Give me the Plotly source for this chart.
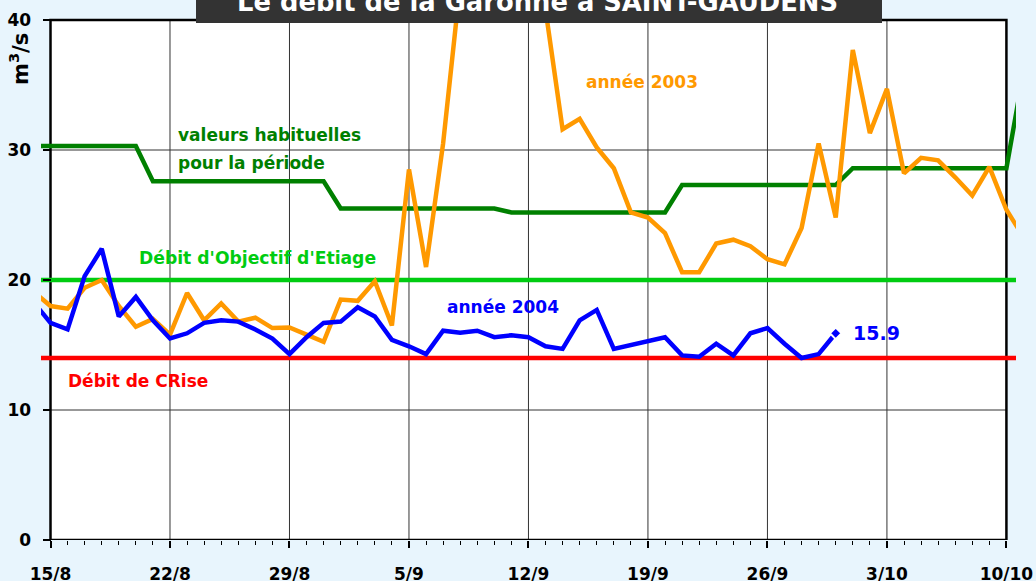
import plotly.graph_objects as go

# ---------------- data ----------------
# day offset from 15/8 (index of the daily category)
day = list(range(-1, 58))
tick_days = [0, 7, 14, 21, 28, 35, 42, 49, 56]
tick_labels = ["15/8", "22/8", "29/8", "5/9", "12/9", "19/9", "26/9", "3/10", "10/10"]
y_ticks = [0, 10, 20, 30, 40]

annee_2004 = [18.3, 16.7, 16.2, 20.3, 22.4, 17.2, 18.7, 16.9, 15.5, 15.9,
              16.7, 16.9, 16.8, 16.2, 15.5, 14.3, 15.6, 16.7, 16.8, 17.9,
              17.2, 15.4, 14.9, 14.3, 16.1, 15.95, 16.1, 15.6, 15.75, 15.6,
              14.9, 14.7, 16.9, 17.7, 14.7, 15.0, 15.3, 15.6, 14.2, 14.1,
              15.1, 14.2, 15.9, 16.3, 15.1, 14.0, 14.3, 15.9]

annee_2003 = [19.1, 18.0, 17.8, 19.4, 20.0, 18.0, 16.4, 17.0, 15.8, 19.0,
              16.9, 18.2, 16.8, 17.1, 16.3, 16.35, 15.8, 15.25, 18.5, 18.4,
              19.9, 16.5, 28.5, 21.0, 30.5, 43.0, 55.0, 62.0, 58.0, 50.0,
              41.0, 31.6, 32.4, 30.2, 28.6, 25.2, 24.8, 23.6, 20.6, 20.6,
              22.8, 23.1, 22.6, 21.6, 21.2, 24.0, 30.5, 24.8, 37.7, 31.3,
              34.7, 28.2, 29.4, 29.2, 27.9, 26.5, 28.7, 25.4, 23.3]

valeurs_habituelles = [30.3, 30.3, 30.3, 30.3, 30.3, 30.3, 30.3,
                       27.6, 27.6, 27.6, 27.6, 27.6, 27.6, 27.6, 27.6, 27.6, 27.6, 27.6,
                       25.5, 25.5, 25.5, 25.5, 25.5, 25.5, 25.5, 25.5, 25.5, 25.5,
                       25.2, 25.2, 25.2, 25.2, 25.2, 25.2, 25.2, 25.2, 25.2, 25.2,
                       27.3, 27.3, 27.3, 27.3, 27.3, 27.3, 27.3, 27.3, 27.3, 27.3,
                       28.6, 28.6, 28.6, 28.6, 28.6, 28.6, 28.6, 28.6, 28.6, 28.6,
                       36.0]

debit_objectif_etiage = 20.0
debit_crise = 14.0
last_label = "15.9"

# ---------------- geometry ----------------
W, H = 1036, 581
L, R, T, B = 41, 20, 0, 41
PX_PER_DAY = 17.07
PX_PER_UNIT = 13.0
FRAME_LEFT = 50.5
xr0 = -(FRAME_LEFT - L) / PX_PER_DAY
xr1 = xr0 + (W - L - R) / PX_PER_DAY
yr1 = (H - T - B) / PX_PER_UNIT


def px(x):
    return (x - L) / (W - L - R)


def py(y):
    return (H - B - y) / (H - T - B)


FONT = "DejaVu Sans"
C_BLUE = "#0000FF"
C_ORANGE = "#FF9900"
C_DGREEN = "#008000"
C_LGREEN = "#00CC11"
C_RED = "#FF0000"

fig = go.Figure()

x_all = day
fig.add_trace(go.Scatter(x=[x_all[0], x_all[-1]], y=[debit_crise, debit_crise],
                         mode="lines", line=dict(color=C_RED, width=4.5),
                         hoverinfo="skip", showlegend=False))
fig.add_trace(go.Scatter(x=[x_all[0], x_all[-1]], y=[debit_objectif_etiage, debit_objectif_etiage],
                         mode="lines", line=dict(color=C_LGREEN, width=4.5),
                         hoverinfo="skip", showlegend=False))
fig.add_trace(go.Scatter(x=day[:len(valeurs_habituelles)], y=valeurs_habituelles,
                         mode="lines", line=dict(color=C_DGREEN, width=4.5),
                         showlegend=False))
fig.add_trace(go.Scatter(x=day[:len(annee_2003)], y=annee_2003,
                         mode="lines", line=dict(color=C_ORANGE, width=4.5),
                         showlegend=False))
fig.add_trace(go.Scatter(x=day[:len(annee_2004)], y=annee_2004,
                         mode="lines", line=dict(color=C_BLUE, width=4.5),
                         showlegend=False))
fig.add_trace(go.Scatter(x=[day[len(annee_2004) - 1]], y=[annee_2004[-1]],
                         mode="markers",
                         marker=dict(symbol="diamond", size=9, color=C_BLUE,
                                     line=dict(color="white", width=2)),
                         showlegend=False))

shapes = []
# white frame interior
shapes.append(dict(type="rect", xref="x", yref="y", x0=tick_days[0], x1=tick_days[-1],
                   y0=y_ticks[0], y1=y_ticks[-1], fillcolor="white",
                   line=dict(width=0), layer="below"))
for d in tick_days[1:-1]:
    shapes.append(dict(type="line", xref="x", yref="y", x0=d, x1=d,
                       y0=y_ticks[0], y1=y_ticks[-1],
                       line=dict(color="#333333", width=1), layer="below"))
for v in y_ticks[1:-1]:
    shapes.append(dict(type="line", xref="x", yref="y", x0=tick_days[0], x1=tick_days[-1],
                       y0=v, y1=v, line=dict(color="#333333", width=1), layer="below"))
shapes.append(dict(type="rect", xref="x", yref="y", x0=tick_days[0], x1=tick_days[-1],
                   y0=y_ticks[0], y1=y_ticks[-1], fillcolor="rgba(0,0,0,0)",
                   line=dict(color="black", width=2.5), layer="below"))
# title box
shapes.append(dict(type="rect", xref="paper", yref="paper", x0=px(196), x1=px(882),
                   y0=py(23), y1=py(-40), fillcolor="#333333",
                   line=dict(width=0), layer="above"))

annotations = []


def label(text, x, y, color, size=17, anchor="left"):
    annotations.append(dict(text=text, xref="paper", yref="paper", x=px(x), y=py(y),
                            xanchor=anchor, yanchor="middle", showarrow=False,
                            font=dict(family=FONT, size=size, color=color, weight="bold")))


label("valeurs habituelles", 176, 135, C_DGREEN)
label("pour la période", 176, 163, C_DGREEN)
label("Débit d'Objectif d'Etiage", 137, 258, C_LGREEN, size=17.2)
label("Débit de CRise", 66, 381, C_RED)
label("année 2004", 445, 307, C_BLUE)
label("année 2003", 584, 82, C_ORANGE)
label(last_label, 851, 333, C_BLUE, size=19)
label("Le débit de la Garonne à SAINT-GAUDENS", 537.5, 2, "white", size=25.8, anchor="center")
annotations.append(dict(text="m<sup>3</sup>/s", xref="paper", yref="paper", x=px(19), y=py(59),
                        xanchor="center", yanchor="middle", textangle=-90, showarrow=False,
                        font=dict(family=FONT, size=21, color="black", weight="bold")))

fig.update_layout(
    width=W, height=H,
    margin=dict(l=L, r=R, t=T, b=B, pad=0),
    paper_bgcolor="#E8F5FD",
    plot_bgcolor="rgba(0,0,0,0)",
    shapes=shapes,
    annotations=annotations,
    showlegend=False,
    xaxis=dict(range=[xr0, xr1], tickmode="array", tickvals=tick_days, ticktext=tick_labels,
               ticks="outside", ticklen=7, tickwidth=1.5, tickcolor="black",
               minor=dict(ticks="outside", tickmode="linear", tick0=0, dtick=1, ticklen=4,
                          tickwidth=1, tickcolor="black"),
               showgrid=False, zeroline=False, showline=False, automargin=False,
               ticklabelstandoff=12,
               tickfont=dict(family=FONT, size=17, color="black", weight="bold")),
    yaxis=dict(range=[0, yr1], tickmode="array", tickvals=y_ticks,
               anchor="free", position=px(FRAME_LEFT), side="left",
               ticks="outside", ticklen=8, tickwidth=1.5, tickcolor="black",
               showgrid=False, zeroline=False, showline=False, automargin=False,
               ticklabelstandoff=8,
               tickfont=dict(family=FONT, size=17, color="black", weight="bold")),
)

fig.write_html("out.html",
               config={"displayModeBar": False},
               post_script="document.body.style.margin='0';document.body.style.overflow='hidden';")
